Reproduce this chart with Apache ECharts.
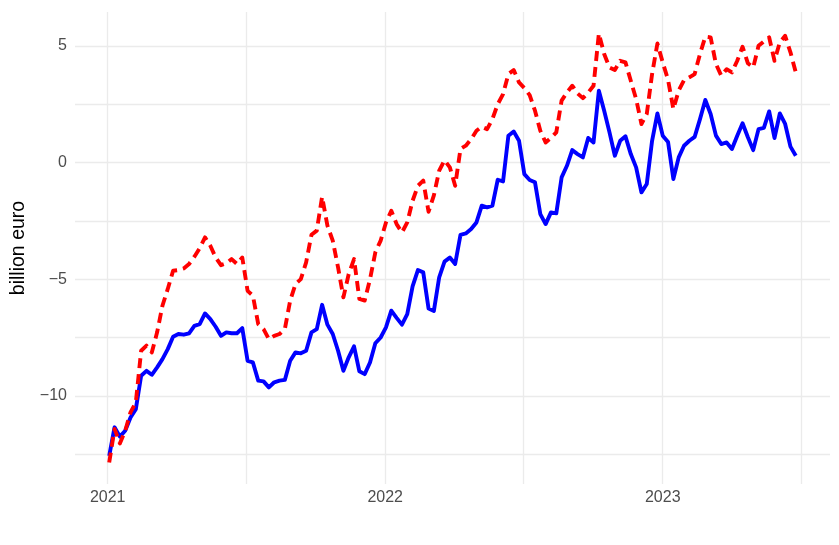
<!DOCTYPE html>
<html><head><meta charset="utf-8">
<script src="https://cdn.jsdelivr.net/npm/echarts@6/dist/echarts.min.js"></script>
<style>html,body{margin:0;padding:0;background:#fff}#c{width:839px;height:545px}</style>
</head><body><div id="c"></div>
<script>
// weekly observations starting 2021-01-03
const startDate = [2021, 0, 3];
const stepDays = 7;

const blueValues = [
 -12.56,-11.34,-11.74,-11.49,-10.92,-10.56,-9.13,-8.92,-9.09,-8.77,
 -8.42,-7.99,-7.46,-7.34,-7.37,-7.31,-6.99,-6.92,-6.46,-6.70,
 -7.03,-7.42,-7.27,-7.31,-7.31,-7.09,-8.49,-8.56,-9.34,-9.37,
 -9.63,-9.41,-9.34,-9.31,-8.49,-8.13,-8.17,-8.06,-7.27,-7.13,
 -6.09,-6.94,-7.34,-8.06,-8.92,-8.34,-7.87,-8.94,-9.06,-8.56,
 -7.74,-7.49,-7.06,-6.34,-6.65,-6.94,-6.49,-5.30,-4.60,-4.70,
 -6.25,-6.35,-4.91,-4.24,-4.06,-4.34,-3.09,-3.03,-2.84,-2.56,
 -1.84,-1.91,-1.84,-0.73,-0.80,1.16,1.34,0.94,-0.49,-0.74,
 -0.84,-2.20,-2.63,-2.13,-2.17,-0.63,-0.13,0.54,0.37,0.23,
 1.06,0.87,3.09,2.23,1.30,0.30,0.94,1.13,0.37,-0.20,
 -1.27,-0.91,0.94,2.11,1.16,0.89,-0.70,0.23,0.73,0.94,
 1.11,1.87,2.69,2.09,1.16,0.80,0.87,0.59,1.16,1.69,
 1.09,0.54,1.44,1.49,2.20,1.06,2.11,1.66,0.69,0.30
];
const redValues = [
 -12.85,-11.41,-12.03,-11.49,-10.70,-10.27,-8.06,-7.84,-8.13,-7.27,
 -6.13,-5.41,-4.63,-4.60,-4.53,-4.34,-4.03,-3.66,-3.20,-3.56,
 -4.06,-4.39,-4.31,-4.13,-4.34,-4.06,-5.49,-5.70,-6.92,-7.13,
 -7.56,-7.42,-7.34,-7.13,-5.91,-5.20,-4.99,-4.27,-3.09,-2.91,
 -1.46,-2.70,-3.34,-4.49,-5.77,-4.77,-4.13,-5.84,-5.91,-5.00,
 -3.84,-3.34,-2.56,-2.06,-2.63,-2.99,-2.56,-1.63,-0.99,-0.77,
 -2.10,-1.40,-0.34,0.11,-0.20,-0.99,0.59,0.73,1.01,1.37,
 1.54,1.44,1.87,2.51,2.94,3.80,3.97,3.44,3.20,2.90,
 2.23,1.37,0.87,1.06,1.30,2.66,3.01,3.30,2.97,2.77,
 3.01,3.30,5.54,4.66,4.08,3.97,4.37,4.30,3.51,2.73,
 1.66,2.09,3.80,5.11,4.30,3.55,2.30,3.09,3.54,3.66,
 3.80,4.66,5.40,5.37,4.23,3.73,4.01,3.87,4.37,4.97,
 4.26,4.08,5.01,5.20,5.37,4.37,5.16,5.44,4.73,3.87
];

const xMajorTicks = ['2021-01-01', '2022-01-01', '2023-01-01'];
const xMinorTicks = ['2021-07-02', '2022-07-02', '2023-07-02'];
const yMajorTicks = [-10, -5, 0, 5];
const yMinorTicks = [-12.5, -7.5, -2.5, 2.5];
const yAxisTitle = 'billion euro';
const xRange = ['2020-11-19', '2023-08-09'];
const yRange = [-13.77, 6.46];

const dayMs = 86400000;
const t0 = Date.UTC(startDate[0], startDate[1], startDate[2]);
const dates = blueValues.map((_, i) => t0 + i * stepDays * dayMs);
const toTs = s => { const p = s.split('-').map(Number); return Date.UTC(p[0], p[1] - 1, p[2]); };

const chart = echarts.init(document.getElementById('c'), null, {renderer: 'canvas'});
const gridColor = '#ebebeb';
const font = 'Liberation Sans, Arial, sans-serif';
chart.setOption({
  animation: false,
  backgroundColor: '#ffffff',
  grid: {left: 75, right: 9, top: 12, bottom: 61, containLabel: false},
  xAxis: {
    type: 'value',
    min: toTs(xRange[0]), max: toTs(xRange[1]),
    axisLine: {show: false},
    axisTick: {show: false, customValues: xMajorTicks.concat(xMinorTicks).map(toTs)},
    axisLabel: {
      customValues: xMajorTicks.map(toTs),
      formatter: v => String(new Date(v).getUTCFullYear()),
      color: '#4d4d4d', fontSize: 16, fontFamily: font, margin: 6
    },
    splitLine: {show: true, lineStyle: {color: gridColor, width: 1.3}}
  },
  yAxis: {
    type: 'value',
    min: yRange[0], max: yRange[1],
    name: yAxisTitle, nameLocation: 'middle', nameGap: 46,
    nameTextStyle: {color: '#000', fontSize: 19.5, fontFamily: font},
    axisLine: {show: false},
    axisTick: {show: false, customValues: yMajorTicks.concat(yMinorTicks)},
    axisLabel: {
      customValues: yMajorTicks,
      formatter: v => (v < 0 ? '\u2212' + Math.abs(v) : String(v)),
      color: '#4d4d4d', fontSize: 16, fontFamily: font, margin: 8
    },
    splitLine: {show: true, lineStyle: {color: gridColor, width: 1.3}}
  },
  series: [
    {
      type: 'line', name: 'blue', showSymbol: false, symbol: 'none',
      data: dates.map((d, i) => [d, blueValues[i]]),
      lineStyle: {color: '#0000ff', width: 3.9, cap: 'butt', join: 'round'},
      z: 3
    },
    {
      type: 'line', name: 'red', showSymbol: false, symbol: 'none',
      data: dates.map((d, i) => [d, redValues[i]]),
      lineStyle: {color: '#ff0000', width: 3.9, type: [10, 6], cap: 'butt', join: 'round'},
      z: 4
    }
  ]
});
</script></body></html>
